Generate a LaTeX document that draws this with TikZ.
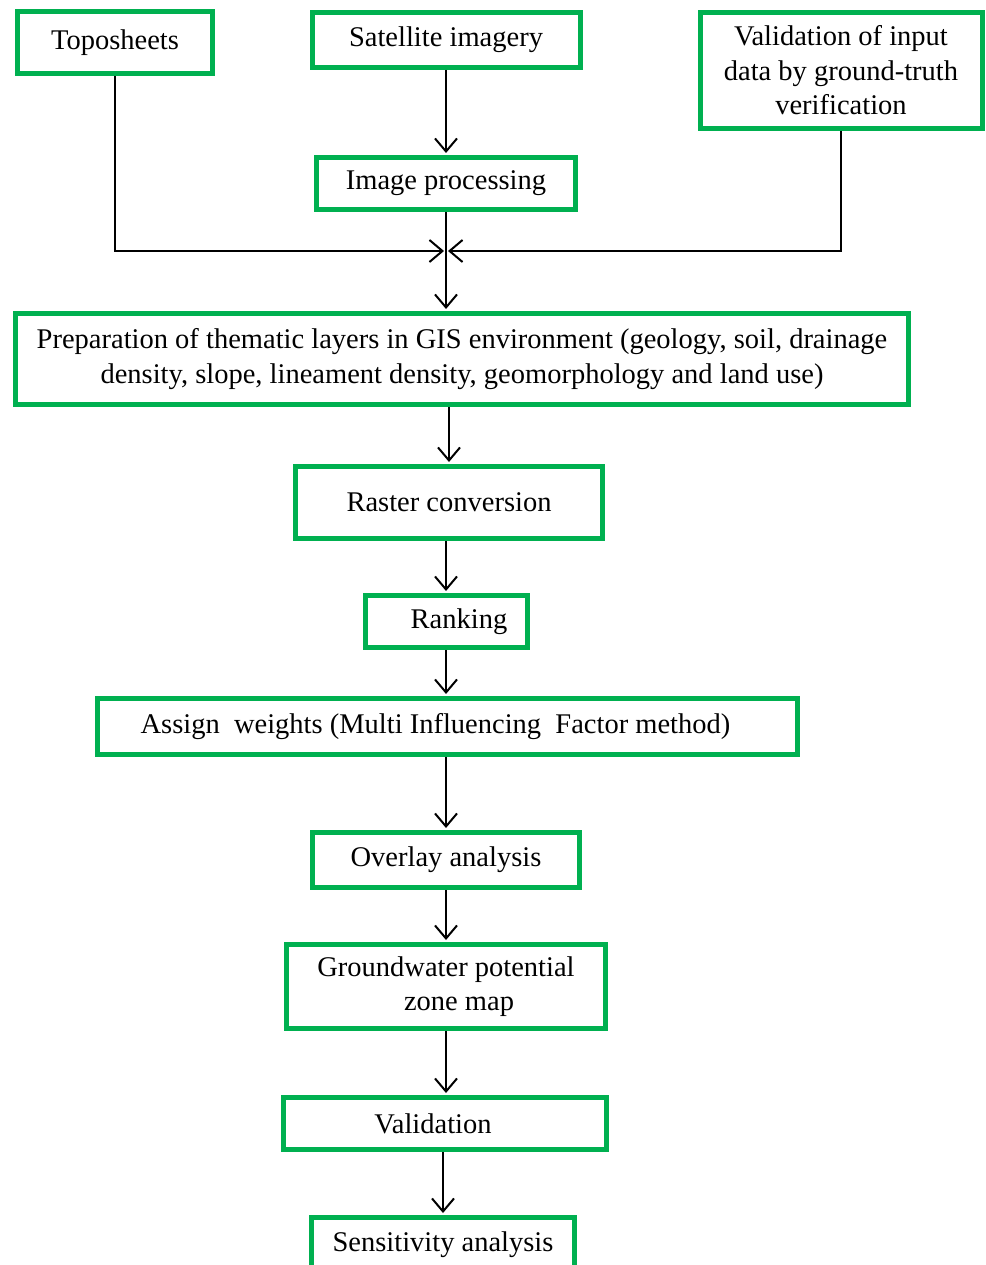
\documentclass[tikz,border=0pt]{standalone}
\usepackage{fontspec}
\setmainfont{Liberation Serif}
\usetikzlibrary{arrows.meta,calc}
\definecolor{boxgreen}{RGB}{0,176,80}
\begin{document}
\begin{tikzpicture}[x=1pt,y=-1pt,
  box/.style={draw=boxgreen,line width=5pt,fill=white,inner sep=0pt,align=center,
    font=\fontsize{28.5}{34.5}\selectfont},
  arr/.style={draw=black,line width=2.2pt,-{Straight Barb[length=13pt,width=22pt,line width=2pt]},shorten >=2pt},
  ln/.style={draw=black,line width=2.2pt}]
\useasboundingbox (0,0) rectangle (985,1265);
\clip (0,0) rectangle (985,1265);
\fill[white] (0,0) rectangle (985,1265);
\node[box,minimum width=195pt,minimum height=62pt] (topo) at (115,42.5) {Toposheets};
\node[box,minimum width=268pt,minimum height=55pt] (sat) at (446,40) {Satellite imagery};
\node[box,minimum width=282pt,minimum height=116pt] (vin) at (841,70.5) {Validation of input\\data by ground-truth\\verification};
\node[box,minimum width=259pt,minimum height=52pt] (img) at (446,183.5) {Image processing};
\node[box,minimum width=893pt,minimum height=91pt] (prep) at (462,359) {Preparation of thematic layers in GIS environment (geology, soil, drainage\\density, slope, lineament density, geomorphology and land use)};
\node[box,minimum width=307pt,minimum height=72pt] (rast) at (449,502.5) {Raster conversion};
\node[box,minimum width=162pt,minimum height=52pt] (rank) at (446,621.5) {\hspace*{26pt}Ranking};
\node[box,minimum width=700pt,minimum height=56pt] (assign) at (447.5,726.5) {Assign\ \ weights (Multi Influencing\ \ Factor method)\hspace*{24pt}};
\node[box,minimum width=267pt,minimum height=55pt] (ovl) at (446,860) {Overlay analysis};
\node[box,minimum width=319pt,minimum height=84pt] (gw) at (446,986.5) {Groundwater potential\\\hspace*{26pt}zone map};
\node[box,minimum width=323pt,minimum height=52pt] (val) at (445,1123.5) {Validation\hspace*{24pt}};
\node[box,minimum width=263pt,minimum height=55pt] (sens) at (443,1245) {Sensitivity analysis};
\coordinate (J) at (446,251);
% connectors
\draw[arr] (img.north |- sat.south) -- (img.north);
\draw[arr] (img.south) -- (img.south |- prep.north);
\draw[arr] (topo.south) -- (topo.south |- J) -- (J);
\draw[arr] (vin.south) -- (vin.south |- J) -- (J);
\draw[arr] (rast.north |- prep.south) -- (rast.north);
\draw[arr] (rank.south |- rast.south) -- (rank.north);
\draw[arr] (rank.south) -- (rank.south |- assign.north);
\draw[arr] (ovl.north |- assign.south) -- (ovl.north);
\draw[arr] (ovl.south) -- (gw.north);
\draw[arr] (gw.south) -- (gw.south |- val.north);
\draw[arr] (sens.north |- val.south) -- (sens.north);
\end{tikzpicture}
\end{document}
